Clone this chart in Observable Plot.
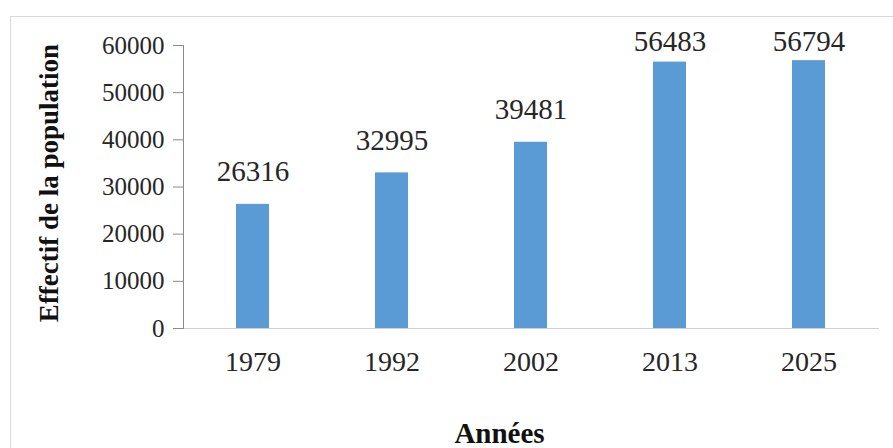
<!DOCTYPE html>
<html>
<head>
<meta charset="utf-8">
<script src="https://cdn.jsdelivr.net/npm/d3@7"></script>
<script src="https://cdn.jsdelivr.net/npm/@observablehq/plot@0.6"></script>
<style>
  html, body { margin: 0; padding: 0; background: #ffffff; }
  #wrap { position: relative; width: 893px; height: 448px; overflow: hidden; }
  #border { position: absolute; left: 10px; top: 16px; width: 900px; height: 460px; border: 1px solid #d9d9d9; box-sizing: border-box; }
  #chart { position: absolute; left: 0; top: 0; }
</style>
</head>
<body>
<div id="wrap"><div id="border"></div><div id="chart"></div></div>
<script>
const years = ["1979", "1992", "2002", "2013", "2025"];
const population = [26316, 32995, 39481, 56483, 56794];
const yTicks = [0, 10000, 20000, 30000, 40000, 50000, 60000];
const yTitle = "Effectif de la population";
const xTitle = "Années";

const data = years.map((year, i) => ({year, pop: population[i]}));

const chart = Plot.plot({
  width: 893,
  height: 448,
  marginLeft: 183,
  marginRight: 14,
  marginTop: 45,
  marginBottom: 120,
  style: {fontFamily: "'Liberation Serif', 'Times New Roman', serif", background: "transparent", color: "#262626"},
  x: {domain: years, paddingInner: 0.76, paddingOuter: 0.38, label: null},
  y: {domain: [0, 60000], label: null},
  marks: [
    Plot.barY(data, {x: "year", y: "pop", fill: "#5B9BD5"}),
    Plot.ruleY([0], {stroke: "#d0d0d0"}),
    Plot.frame({anchor: "left", stroke: "#8a8a8a"}),
    Plot.axisY({ticks: yTicks, tickFormat: d => String(d), tickSize: 10, tickPadding: 9, fontSize: 25, stroke: "#8a8a8a", fill: "#262626", label: null}),
    Plot.axisX({tickSize: 0, tickPadding: 23, fontSize: 28, fill: "#262626", label: null}),
    Plot.text(data, {x: "year", y: d => Math.min(d.pop + 4900, 58900), text: d => String(d.pop), lineAnchor: "bottom", fontSize: 29, fill: "#262626"}),
    Plot.text([yTitle], {frameAnchor: "left", dx: -134, dy: -4, rotate: -90, textAnchor: "middle", lineAnchor: "middle", fontSize: 27, fontWeight: "bold", fill: "#111"}),
    Plot.text([xTitle], {frameAnchor: "bottom", dx: -32, dy: 105, textAnchor: "middle", lineAnchor: "middle", fontSize: 29, fontWeight: "bold", fill: "#111"})
  ]
});
document.getElementById("chart").appendChild(chart);
</script>
</body>
</html>
